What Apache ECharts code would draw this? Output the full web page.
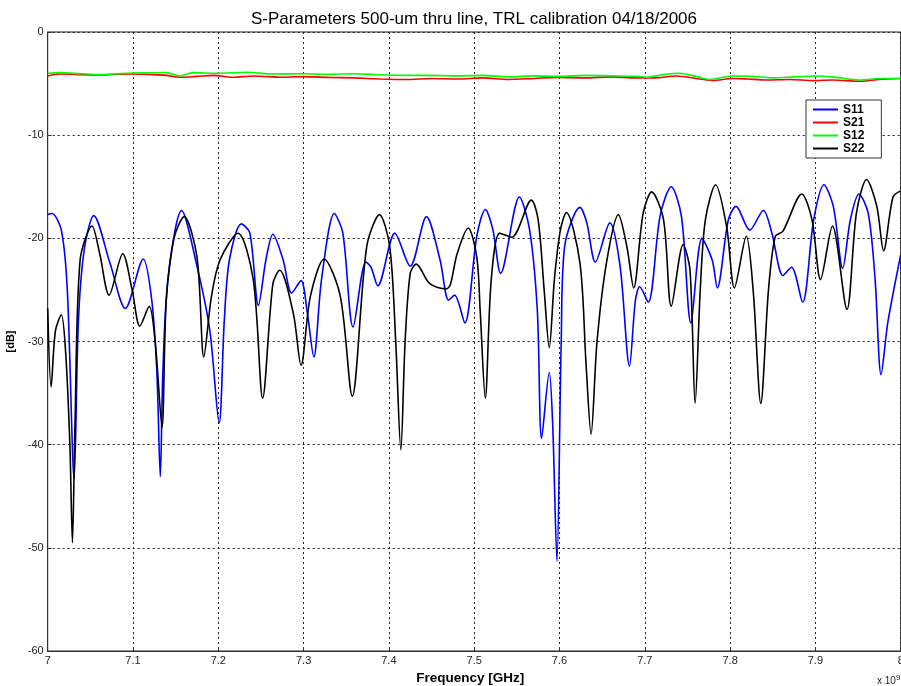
<!DOCTYPE html>
<html><head><meta charset="utf-8">
<script src="https://cdn.jsdelivr.net/npm/echarts@6/dist/echarts.min.js"></script>
<style>html,body{margin:0;padding:0;background:#fff}#c{width:901px;height:686px}</style>
</head><body><div id="c"></div>
<script>
// Frequency in GHz (axis shown x 10^9), values in dB
const s11Freq = [7.000,7.005,7.016,7.023,7.031,7.036,7.043,7.054,7.073,7.091,7.112,7.122,7.128,7.132,7.135,7.141,7.157,7.175,7.190,7.201,7.207,7.213,7.227,7.237,7.247,7.256,7.264,7.276,7.286,7.297,7.304,7.312,7.321,7.336,7.346,7.358,7.373,7.379,7.387,7.407,7.425,7.444,7.460,7.470,7.477,7.489,7.503,7.513,7.522,7.531,7.553,7.565,7.574,7.579,7.588,7.592,7.597,7.602,7.606,7.624,7.632,7.642,7.659,7.671,7.682,7.689,7.694,7.704,7.718,7.731,7.743,7.754,7.767,7.779,7.785,7.798,7.807,7.823,7.839,7.849,7.862,7.872,7.885,7.898,7.910,7.921,7.932,7.941,7.951,7.962,7.970,7.977,7.985,8.000];
const s11Db = [-17.7,-17.6,-19.2,-25,-43.3,-28,-21,-17.8,-22.4,-26.8,-22.0,-26,-33,-43.1,-33,-24,-17.3,-22.7,-28.9,-37.9,-28,-22.1,-18.6,-19.5,-26.5,-22,-19.6,-22.1,-25.3,-24.1,-27,-31.5,-24,-17.6,-19.5,-28.6,-22.3,-22.8,-24.6,-19.5,-22.7,-17.9,-22.1,-26.0,-25.5,-28.2,-19.8,-17.2,-19.2,-23.4,-16.0,-19.2,-27,-39.4,-33.0,-38,-51.3,-30,-20.8,-17.0,-18.5,-22.3,-18.5,-22.7,-32.4,-26.0,-24.7,-26.2,-17.8,-15.0,-17.9,-28.2,-20.0,-22.1,-24.8,-18.2,-16.9,-19.2,-17.3,-19.5,-23.6,-22.8,-26.2,-18.2,-14.8,-16.9,-22.9,-18.2,-15.7,-17.6,-24,-33.2,-28.1,-21.6];

const s22Freq = [7.000,7.004,7.009,7.016,7.021,7.026,7.029,7.032,7.038,7.052,7.061,7.072,7.088,7.099,7.108,7.119,7.126,7.134,7.139,7.148,7.160,7.175,7.183,7.192,7.202,7.223,7.241,7.252,7.264,7.272,7.288,7.297,7.308,7.324,7.343,7.357,7.374,7.389,7.401,7.408,7.414,7.419,7.425,7.432,7.448,7.467,7.472,7.480,7.493,7.503,7.507,7.513,7.520,7.530,7.544,7.567,7.575,7.582,7.588,7.594,7.601,7.608,7.624,7.631,7.637,7.644,7.655,7.669,7.679,7.687,7.698,7.708,7.722,7.731,7.745,7.753,7.759,7.765,7.771,7.783,7.796,7.805,7.819,7.827,7.836,7.845,7.853,7.862,7.884,7.896,7.906,7.920,7.937,7.948,7.960,7.972,7.980,7.991,8.000];
const s22Db = [-26.8,-34.4,-29,-27.4,-31,-40,-49.5,-38,-22.1,-18.8,-21.5,-25.5,-21.5,-25,-28.5,-26.6,-30,-38.3,-26,-20,-17.9,-21.8,-31.5,-25.6,-22.1,-19.5,-24.0,-35.5,-24.4,-23.1,-27.3,-32.3,-25.6,-22.0,-25.6,-35.3,-20.8,-17.7,-20.8,-30,-40.5,-30,-23.4,-22.5,-24.4,-24.9,-24.5,-21.5,-19.0,-21.8,-27,-35.5,-24.0,-19.5,-19.9,-16.3,-18.2,-25,-30.6,-24,-19.2,-17.5,-22.4,-32,-39.0,-30,-22.4,-17.7,-20.8,-24.8,-17.6,-15.5,-18.2,-26.6,-20.6,-23.1,-36.0,-25,-18.2,-14.8,-18.9,-24.8,-19.8,-25,-36.0,-25,-19.8,-19.3,-15.7,-18.2,-24.0,-18.8,-26.9,-17.6,-14.3,-16.9,-21.2,-16.0,-15.4];

const s21Freq = [7.0,7.014,7.04,7.061,7.08,7.1,7.12,7.139,7.155,7.175,7.194,7.217,7.241,7.276,7.296,7.33,7.36,7.39,7.42,7.45,7.48,7.51,7.54,7.57,7.6,7.63,7.66,7.69,7.71,7.737,7.76,7.78,7.803,7.82,7.843,7.87,7.897,7.92,7.952,7.975,8.0];
const s21Db = [-4.26,-4.07,-4.15,-4.17,-4.1,-4.07,-4.12,-4.2,-4.39,-4.3,-4.2,-4.39,-4.26,-4.39,-4.33,-4.4,-4.45,-4.55,-4.6,-4.5,-4.55,-4.45,-4.6,-4.5,-4.4,-4.45,-4.35,-4.45,-4.45,-4.26,-4.5,-4.71,-4.5,-4.55,-4.65,-4.6,-4.71,-4.65,-4.78,-4.6,-4.5];

const s12Freq = [7.0,7.014,7.04,7.061,7.08,7.1,7.12,7.139,7.155,7.17,7.198,7.233,7.264,7.296,7.33,7.36,7.39,7.42,7.45,7.48,7.51,7.54,7.57,7.6,7.63,7.66,7.69,7.702,7.72,7.739,7.76,7.776,7.802,7.825,7.851,7.875,7.901,7.925,7.952,7.975,8.0];
const s12Db = [-4.0,-3.94,-4.05,-4.13,-4.05,-3.97,-3.95,-3.94,-4.26,-3.94,-4.0,-3.9,-4.07,-4.04,-4.1,-4.05,-4.15,-4.2,-4.2,-4.25,-4.2,-4.35,-4.25,-4.3,-4.2,-4.25,-4.3,-4.39,-4.15,-4.0,-4.3,-4.6,-4.26,-4.3,-4.45,-4.35,-4.26,-4.4,-4.65,-4.5,-4.5];

const seriesNames = ['S11','S21','S12','S22'];
const seriesColors = ['#0000ff','#ff0000','#00ff00','#000000'];
const xTicks = ['7','7.1','7.2','7.3','7.4','7.5','7.6','7.7','7.8','7.9','8'];
const yTicks = ['-60','-50','-40','-30','-20','-10','0'];

const zip = (a, b) => a.map((v, i) => [v, b[i]]);
const allData = [zip(s11Freq, s11Db), zip(s21Freq, s21Db), zip(s12Freq, s12Db), zip(s22Freq, s22Db)];

const FONT = '"Liberation Sans", Arial, sans-serif';
const chart = echarts.init(document.getElementById('c'), null, {renderer: 'canvas'});
chart.setOption({
  animation: false,
  backgroundColor: '#ffffff',
  title: {
    text: 'S-Parameters 500-um thru line, TRL calibration 04/18/2006',
    left: 469, top: 6, textAlign: 'center',
    textStyle: {fontFamily: FONT, fontSize: 17, fontWeight: 'normal', color: '#000'}
  },
  grid: {left: 47.7, top: 32, right: 0.3, bottom: 35, containLabel: false, outerBoundsMode: 'none',
         show: true, borderColor: '#222', borderWidth: 1},
  legend: {
    data: seriesNames,
    orient: 'vertical', left: 806, top: 100,
    icon: 'rect', itemWidth: 25, itemHeight: 2, itemGap: 0,
    padding: [3, 17, 3, 7],
    backgroundColor: '#fff', borderColor: '#333', borderWidth: 1, borderRadius: 0,
    textStyle: {fontFamily: FONT, fontSize: 12, fontWeight: 'bold', color: '#000', lineHeight: 13}
  },
  xAxis: {
    type: 'value', min: 7, max: 8, interval: 0.1,
    name: 'Frequency [GHz]', nameLocation: 'middle', nameGap: 19,
    nameTextStyle: {fontFamily: FONT, fontSize: 13.5, fontWeight: 'bold', color: '#000', padding: [0, 8, 0, 0]},
    axisLine: {show: true, onZero: false, lineStyle: {color: '#333', width: 1}},
    axisTick: {show: true, inside: true, length: 4, lineStyle: {color: '#333'}},
    axisLabel: {fontFamily: FONT, fontSize: 11, color: '#222', margin: 4, showMaxLabel: true, showMinLabel: true,
      formatter: v => xTicks[Math.round((v - 7) * 10)]},
    splitLine: {show: true, lineStyle: {color: '#222', type: [2, 3], width: 1}}
  },
  yAxis: {
    type: 'value', min: -60, max: 0, interval: 10,
    name: '[dB]', nameLocation: 'middle', nameGap: 30, nameRotate: 90,
    nameTextStyle: {fontFamily: FONT, fontSize: 11, fontWeight: 'bold', color: '#000'},
    axisLine: {show: true, onZero: false, lineStyle: {color: '#333', width: 1}},
    axisTick: {show: true, inside: true, length: 4, lineStyle: {color: '#333'}},
    axisLabel: {fontFamily: FONT, fontSize: 11, color: '#222', margin: 4,
      formatter: v => yTicks[Math.round((v + 60) / 10)]},
    splitLine: {show: true, lineStyle: {color: '#222', type: [2, 3], width: 1}}
  },
  graphic: [{
    type: 'text', left: 877, top: 674, silent: true,
    style: {text: 'x 10{s|9}', fontFamily: FONT, fontSize: 10, fill: '#222',
      rich: {s: {fontSize: 8, verticalAlign: 'top', padding: [0, 0, 6, 0], fontFamily: FONT, fill: '#222'}}}
  }],
  series: seriesNames.map((n, i) => ({
    name: n, type: 'line', data: allData[i], showSymbol: false, symbol: 'none',
    smooth: 0.3, clip: true,
    lineStyle: {color: seriesColors[i], width: 1.6},
    itemStyle: {color: seriesColors[i]}
  }))
});
</script></body></html>
